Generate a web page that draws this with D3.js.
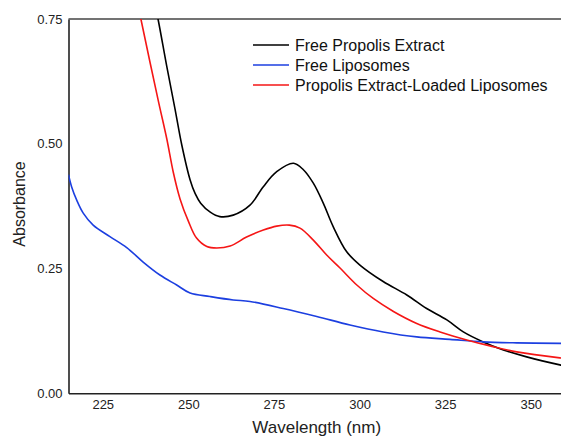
<!DOCTYPE html>
<html><head><meta charset="utf-8">
<script src="https://cdn.jsdelivr.net/npm/d3@7"></script>
<style>body{margin:0;background:#fff}svg{display:block}text{font-family:Arial,"Liberation Sans",sans-serif}</style>
</head><body><div id="chart"></div>
<script>
const seriesNames = ["Free Propolis Extract", "Free Liposomes", "Propolis Extract-Loaded Liposomes"];
const seriesColors = ["#000000", "#1c3fe0", "#f51616"];
const xTicks = [225, 250, 275, 300, 325, 350];
const yTicks = [0.00, 0.25, 0.50, 0.75];

const freePropolis = [
  [239.9,0.79],[241.2,0.748],[243.7,0.655],[246.1,0.570],[248.1,0.497],[250.5,0.428],[252.0,0.400],[253.6,0.381],
  [256.4,0.363],[259.2,0.354],[263.1,0.357],[268.0,0.377],[271.9,0.414],[275.8,0.444],
  [280.7,0.461],[283.6,0.448],[286.5,0.421],[289.4,0.381],[292.3,0.334],[296.2,0.284],
  [300.1,0.257],[306.9,0.224],[313.8,0.197],[319.6,0.170],[325.5,0.147],[330.3,0.123],
  [336.1,0.103],[342.0,0.087],[348.8,0.073],[358.5,0.057],[360,0.055]
];
const freeLiposomes = [
  [215,0.438],[215.9,0.414],[217.4,0.387],[219.3,0.361],[222.2,0.337],[227.1,0.314],
  [232.0,0.292],[236.8,0.263],[241.7,0.237],[246.6,0.217],[250.5,0.201],[256.3,0.194],
  [263.1,0.187],[268.0,0.184],[277.7,0.170],[287.5,0.154],[297.2,0.137],[306.9,0.123],
  [316.7,0.113],[326.4,0.108],[336.1,0.103],[345.9,0.101],[358.5,0.100],[360,0.100]
];
const loadedLiposomes = [
  [235.0,0.79],[236.2,0.748],[241.2,0.587],[243.7,0.510],[245.6,0.443],[247.6,0.389],[250.0,0.345],
  [252.4,0.311],[255.4,0.294],[258.3,0.291],[262.2,0.295],[267.0,0.313],[271.9,0.327],
  [275.8,0.335],[279.5,0.337],[282.6,0.331],[286.5,0.307],[290.4,0.277],[294.3,0.251],
  [299.2,0.217],[304.0,0.190],[309.9,0.164],[316.7,0.140],[323.5,0.123],[331.3,0.107],
  [338.1,0.095],[345.9,0.083],[358.5,0.071],[360,0.070]
];
const allSeries = [freePropolis, freeLiposomes, loadedLiposomes];

const W = 561, H = 440;
const svg = d3.select("#chart").append("svg").attr("width", W).attr("height", H);
const x = d3.scaleLinear().domain([215, 360]).range([68.5, 565]);
const y = d3.scaleLinear().domain([0, 0.75]).range([393.3, 19]);

svg.append("clipPath").attr("id","clip").append("rect")
  .attr("x", 68.5).attr("y", 19).attr("width", W - 68.5).attr("height", 393.3 - 19);

const yAxis = svg.append("g").attr("transform", "translate(68.5,0)")
  .call(d3.axisLeft(y).tickValues(yTicks).tickFormat(d3.format(".2f")).tickSize(0).tickPadding(6));
yAxis.select(".domain").attr("stroke", "#222").attr("stroke-width", 1.6);
yAxis.selectAll("text").attr("font-size", 13).attr("fill", "#222");

const xAxis = svg.append("g").attr("transform", "translate(0,393.3)")
  .call(d3.axisBottom(x).tickValues(xTicks).tickSize(0).tickPadding(6));
xAxis.select(".domain").attr("stroke", "#222").attr("stroke-width", 1.6);
xAxis.selectAll("text").attr("font-size", 13).attr("fill", "#222");

svg.append("line").attr("x1", 68.5).attr("x2", W).attr("y1", y(0.75)).attr("y2", y(0.75))
  .attr("stroke", "#444").attr("stroke-width", 1.4);

const line = d3.line().x(d => x(d[0])).y(d => y(d[1])).curve(d3.curveCatmullRom.alpha(0.5));
const g = svg.append("g").attr("clip-path", "url(#clip)");
allSeries.forEach((s, i) => {
  g.append("path").datum(s).attr("d", line).attr("fill", "none")
    .attr("stroke", seriesColors[i]).attr("stroke-width", 1.6).attr("stroke-linejoin", "round");
});

const leg = svg.append("g");
seriesNames.forEach((n, i) => {
  const yy = 45 + i * 20;
  leg.append("line").attr("x1", 253).attr("x2", 289).attr("y1", yy).attr("y2", yy)
    .attr("stroke", seriesColors[i]).attr("stroke-width", 1.6);
  leg.append("text").attr("x", 295).attr("y", yy).attr("dy", "0.35em")
    .attr("font-size", 16).attr("fill", "#111").text(n);
});

const xr = x.range();
svg.append("text").attr("x", (xr[0] + xr[1]) / 2).attr("y", 433).attr("text-anchor", "middle")
  .attr("font-size", 17).attr("fill", "#222").text("Wavelength (nm)");
svg.append("text").attr("transform", "translate(24.5,204) rotate(-90)").attr("text-anchor", "middle")
  .attr("font-size", 16).attr("fill", "#222").text("Absorbance");
</script></body></html>
